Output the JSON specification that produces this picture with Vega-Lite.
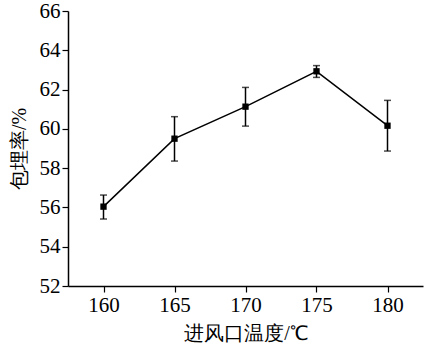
{
  "$schema": "https://vega.github.io/schema/vega-lite/v6.json",
  "autosize": {"type": "none"},
  "padding": {"left": 68, "top": 11, "right": 1, "bottom": 68},
  "width": 355,
  "height": 275,
  "background": "white",
  "config": {
    "view": {"stroke": null},
    "axis": {
      "domainColor": "black",
      "domainWidth": 1.5,
      "tickColor": "black",
      "tickWidth": 1.2,
      "tickSize": 6,
      "ticks": true,
      "grid": false,
      "labelOverlap": false,
      "labelFont": "Liberation Serif",
      "labelFontSize": 21,
      "labelColor": "black",
      "titleFont": "Liberation Serif",
      "titleFontSize": 20,
      "titleFontWeight": "normal",
      "titleColor": "black"
    }
  },
  "data": {
    "values": [
      {"t": 160, "v": 56.04, "lo": 55.41, "hi": 56.63},
      {"t": 165, "v": 59.5, "lo": 58.36, "hi": 60.62},
      {"t": 170, "v": 61.13, "lo": 60.14, "hi": 62.11},
      {"t": 175, "v": 62.93, "lo": 62.62, "hi": 63.22},
      {"t": 180, "v": 60.16, "lo": 58.87, "hi": 61.45}
    ]
  },
  "layer": [
    {
      "mark": {"type": "rule", "color": "black", "strokeWidth": 1.5},
      "encoding": {
        "x": {
          "field": "t",
          "type": "quantitative",
          "scale": {"domain": [157.5, 182.5], "nice": false, "zero": false},
          "axis": {
            "title": "进风口温度/℃",
            "tickCount": 5,
            "labelOverlap": false,
            "titlePadding": 8
          }
        },
        "y": {
          "field": "lo",
          "type": "quantitative",
          "scale": {"domain": [52, 66], "nice": false, "zero": false},
          "axis": {
            "title": "包埋率/%",
            "tickCount": 7,
            "labelOverlap": false,
            "titlePadding": 10
          }
        },
        "y2": {"field": "hi"}
      }
    },
    {
      "mark": {"type": "tick", "color": "black", "orient": "horizontal", "size": 7, "thickness": 1.5},
      "encoding": {"x": {"field": "t", "type": "quantitative"}, "y": {"field": "lo", "type": "quantitative"}}
    },
    {
      "mark": {"type": "tick", "color": "black", "orient": "horizontal", "size": 7, "thickness": 1.5},
      "encoding": {"x": {"field": "t", "type": "quantitative"}, "y": {"field": "hi", "type": "quantitative"}}
    },
    {
      "mark": {"type": "line", "color": "black", "strokeWidth": 1.5},
      "encoding": {"x": {"field": "t", "type": "quantitative"}, "y": {"field": "v", "type": "quantitative"}}
    },
    {
      "mark": {"type": "point", "shape": "square", "filled": true, "color": "black", "size": 40, "opacity": 1},
      "encoding": {"x": {"field": "t", "type": "quantitative"}, "y": {"field": "v", "type": "quantitative"}}
    }
  ]
}
